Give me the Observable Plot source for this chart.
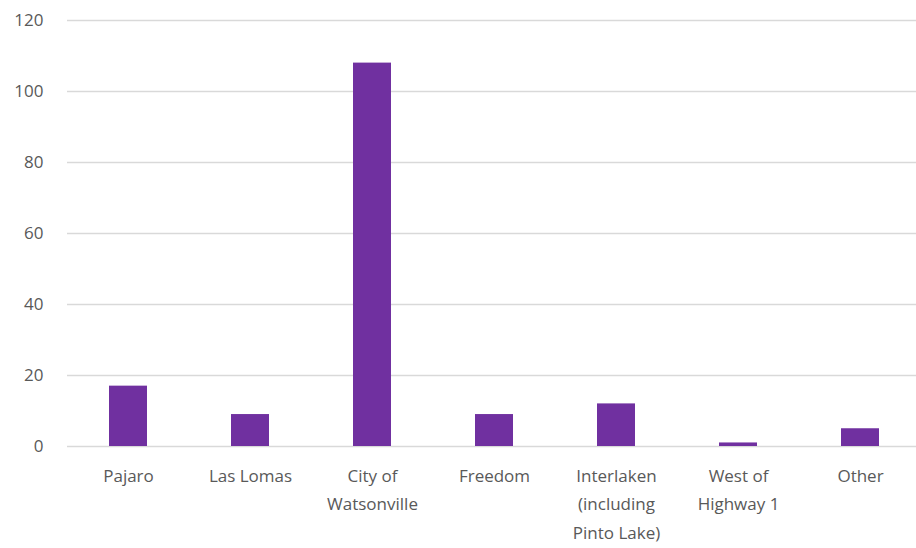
<!DOCTYPE html>
<html>
<head>
<meta charset="utf-8">
<script src="https://cdn.jsdelivr.net/npm/d3@7"></script>
<script src="https://cdn.jsdelivr.net/npm/@observablehq/plot@0.6"></script>
<style>
  html, body { margin: 0; padding: 0; background: #fff; }
  #chart svg { display: block; }
</style>
</head>
<body>
<div id="chart"></div>
<script>
const categories = ["Pajaro", "Las Lomas", "City of Watsonville", "Freedom", "Interlaken (including Pinto Lake)", "West of Highway 1", "Other"];
const tickLabels = ["Pajaro", "Las Lomas", "City of\nWatsonville", "Freedom", "Interlaken\n(including\nPinto Lake)", "West of\nHighway 1", "Other"];
const values = [17, 9, 108, 9, 12, 1, 5];
const yTicks = [0, 20, 40, 60, 80, 100, 120];

const data = categories.map((c, i) => ({category: c, value: values[i]}));
const labelOf = new Map(categories.map((c, i) => [c, tickLabels[i]]));

const chart = Plot.plot({
  width: 916,
  height: 548,
  marginLeft: 67,
  marginRight: 0,
  marginTop: 20,
  marginBottom: 102,
  style: {fontFamily: "'Open Sans', sans-serif", fontSize: "17px", color: "#595959", background: "#fff"},
  x: {domain: categories, range: [67, 921], paddingInner: 0.69, paddingOuter: 0.345, label: null},
  y: {domain: [0, 120], label: null},
  marks: [
    Plot.ruleY(yTicks, {stroke: "#d9d9d9", strokeWidth: 1.5}),
    Plot.barY(data, {x: "category", y: "value", fill: "#7030A0"}),
    Plot.axisY({ticks: yTicks, tickSize: 0, tickPadding: 24, label: null, fill: "#595959", fontSize: 17}),
    Plot.axisX({tickSize: 0, tickPadding: 16, label: null, tickFormat: d => labelOf.get(d), lineHeight: 1.65, fill: "#595959", fontSize: 17})
  ]
});
document.getElementById("chart").appendChild(chart);
</script>
</body>
</html>
